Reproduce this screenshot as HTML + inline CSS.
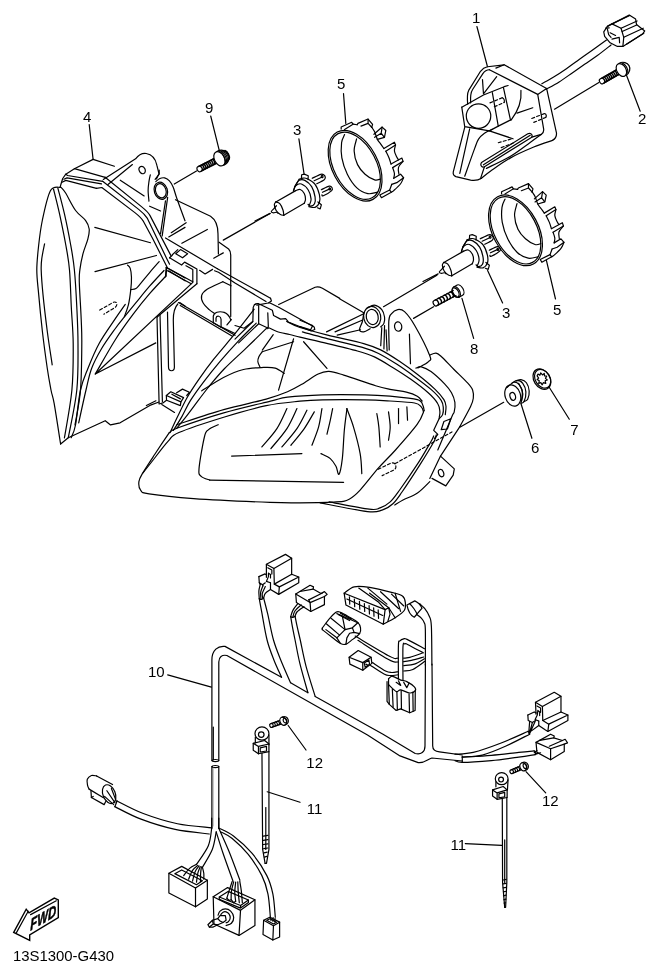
<!DOCTYPE html>
<html><head><meta charset="utf-8">
<style>
html,body{margin:0;padding:0;background:#fff;}
svg{display:block;filter:grayscale(1);}
svg *{vector-effect:non-scaling-stroke;}
.l{fill:none;stroke:#000;stroke-width:1.2;stroke-linecap:round;stroke-linejoin:round;}
.d{fill:none;stroke:#000;stroke-width:1.15;stroke-dasharray:3 2.2;}
text{font-family:"Liberation Sans",sans-serif;font-size:15px;fill:#000;}
</style></head><body>
<svg width="659" height="975" viewBox="0 0 659 975">
<rect width="659" height="975" fill="#fff"/>
<!-- LABELS -->
<g id="labels">
<text x="472" y="23.4">1</text>
<text x="638" y="124">2</text>
<text x="293" y="135">3</text>
<text x="502" y="317.5">3</text>
<text x="83" y="122">4</text>
<text x="337" y="89">5</text>
<text x="553" y="315">5</text>
<text x="531" y="453.2">6</text>
<text x="570.3" y="434.5">7</text>
<text x="470" y="353.5">8</text>
<text x="205" y="113">9</text>
<text x="148" y="677">10</text>
<text x="306.8" y="814.2">11</text>
<text x="450.5" y="850.2">11</text>
<text x="306.3" y="768">12</text>
<text x="542" y="806.4">12</text>
<text x="13" y="961" style="font-size:14.9px">13S1300-G430</text>
</g>
<!-- FWD arrow -->
<g id="fwd">
<path d="M13.7,932.4 L26.2,909.2 L29,912.9 L54.3,898.1 L58.3,899.9 L58.3,917.6 L29.7,934.9 L29.7,940.3 Z" fill="#fff" stroke="#000" stroke-width="1.4" stroke-linejoin="miter"/>
<path class="l" d="M16.3,932.9 L28.2,911.2 M30.6,914.6 L56.3,900.8"/>
<text transform="translate(30.3,930.8) skewY(-30) scale(0.69,1)" style="font-size:16.5px;font-weight:bold;font-style:italic;stroke:#000;stroke-width:0.5px">FWD</text>
</g>
<g class="l" id="leaders">
<path d="M476.9,26.5 L487.3,66"/>
<path d="M626.3,74.7 L640.2,111.2"/>
<path d="M298.9,138.9 L304,173.7"/>
<path d="M343.5,93.5 L345.8,123.4"/>
<path d="M210.7,116 L219.3,150.7"/>
<path d="M89.2,124.5 L93.1,159.4"/>
<path d="M487.6,270.6 L502.6,302.9"/>
<path d="M546.4,260.3 L555.5,299"/>
<path d="M521,403.7 L531.9,438.3"/>
<path d="M549.2,387.3 L569.3,419.2"/>
<path d="M460.3,426.9 L503.7,402.3"/>
<path d="M174.3,184 L196.5,171"/>
<path d="M167.7,674.9 L211.4,687.1"/>
<path d="M267.2,791.8 L300,802.3"/>
<path d="M288.2,725.5 L306,750"/>
<path d="M465.3,843.6 L501.7,845.4"/>
<path d="M526,771.7 L545.7,792.9"/>
</g>

<g class="l">
<path d="M60.2,187.2 C58.6,187.8 53.4,185.3 50.4,190.8 C47.4,196.3 44.3,211.0 42.4,220.0 C40.5,229.0 39.6,236.7 38.7,245.0 C37.8,253.3 36.8,261.7 36.8,270.0 C36.8,278.3 37.8,284.4 38.7,294.6 C39.6,304.9 41.0,319.2 42.4,331.5 C43.8,343.8 45.9,358.8 47.3,368.5 C48.7,378.2 49.9,384.1 51.0,390.0 C52.1,395.9 52.6,394.7 54.2,403.7 C55.8,412.7 59.5,437.3 60.6,444.0"/>
<path d="M44.6,243.8 C44.1,246.2 42.4,254.1 41.8,258.5 C41.2,262.9 41.0,264.0 41.2,270.0 C41.4,276.0 42.0,284.4 43.0,294.6 C44.0,304.9 45.8,319.8 47.3,331.5 C48.8,343.2 51.4,359.2 52.2,364.8"/>
<path d="M53.5,189.0 C54.5,193.2 57.6,204.9 59.6,214.2 C61.6,223.5 64.1,235.7 65.8,245.0 C67.5,254.3 68.6,259.7 69.5,270.0 C70.4,280.3 70.7,294.7 71.3,307.0 C71.9,319.3 73.1,330.0 73.2,343.8 C73.3,357.6 73.4,374.3 71.9,390.0 C70.4,405.7 65.7,430.0 64.4,438.0"/>
<path d="M57.8,187.8 C58.9,192.2 62.4,204.7 64.5,214.2 C66.7,223.7 69.0,235.7 70.7,245.0 C72.4,254.3 73.4,259.7 74.4,270.0 C75.4,280.3 76.2,294.7 76.8,307.0 C77.4,319.3 78.0,330.0 78.0,343.8 C78.0,357.6 78.4,374.4 76.8,390.0 C75.2,405.6 69.7,429.8 68.3,437.7"/>
<path d="M60.2,187.2 C60.4,187.3 60.6,186.8 61.5,187.8 C62.4,188.8 63.4,189.5 65.8,193.3 C68.1,197.1 72.3,206.0 75.6,210.5 C78.9,215.0 83.2,217.3 85.5,220.4 C87.8,223.5 88.8,225.9 89.2,229.0 C89.6,232.1 88.9,234.7 87.9,238.8 C86.9,242.9 84.3,248.5 83.0,253.6 C81.7,258.7 80.5,264.8 79.9,269.6 C79.3,274.4 79.1,274.0 79.3,282.3 C79.5,290.6 80.8,308.9 81.2,319.2 C81.6,329.4 81.9,332.0 81.8,343.8 C81.7,355.6 81.6,376.5 80.5,390.0 C79.4,403.5 75.9,419.2 75.0,425.0"/>
</g>
<g class="l">
<!-- top-left flange -->
<path d="M93.1,159.4 L74.4,168.7 L65.8,174.2 L62.7,178.5 L60.8,184.7 L60.2,187.2"/>
<path d="M93.1,159.4 L114.4,166.2"/>
<path d="M74.4,168.7 L105.2,177.3"/>
<path d="M65.8,174.2 L67.6,175.5 L102.7,181.3"/>
<path d="M63.9,179.2 L67,177.9 L101.5,183.8"/>
<path d="M62.1,182.2 L65.8,180.4 L96.5,188.4"/>
</g>

<g class="l" transform="translate(40,145) scale(0.21244)">
<!-- ear -->
<path d="M298,162 L450,65 C465,45 485,38 500,40 C530,45 545,70 550,95 L560,135 L548,160"/>
<path d="M320,186 L435,92"/>
<ellipse cx="481" cy="118" rx="14" ry="18" transform="rotate(-25 481 118)"/>
<!-- reflector -->
<path d="M258,388 L520,460"/>
</g>

<g class="l" transform="translate(50,255) scale(0.21244)">
<!-- bottom edge -->
<path d="M50,890 L86,860 L260,780 L285,800 L330,790 L470,708 L513,692"/>
</g>

<g class="l" transform="translate(150,170) scale(0.21244)">
<path d="M170,248 L100,295"/>
<path d="M270,280 L150,345"/>
<!-- back box -->
<path d="M120,140 L285,218 C310,235 320,270 320,300 L322,395"/>
<path d="M325,340 L370,372 C378,380 380,390 380,400 L380,690"/>
<path d="M300,415 L345,390"/>
<!-- leaders -->
<path d="M345,330 L565,205"/>
</g>
<g class="l" transform="translate(145,225) scale(0.13657)">
<!-- clip -->
<path d="M225,210 L260,180 L312,210 L275,240 Z"/>
<path d="M200,218 L240,180 M180,240 L200,222"/>
<path d="M180,240 L268,293 L290,272 L380,322 L380,430"/>
<path d="M300,298 L350,326 L350,415"/>
<!-- channel floor -->
<path d="M155,310 L350,415"/>
<path d="M165,335 L338,430"/>
<path d="M155,310 L150,380"/>
<!-- long diagonals to lower-left -->
<path d="M380,430 L89,674"/>
<!-- rail -->
<path d="M150,95 L530,320"/>
<path d="M400,332 L440,358 L495,325"/>
<!-- cavity -->
<path d="M570.0,415.0 C550.8,424.2 480.8,453.3 455.0,470.0 C429.2,486.7 420.0,498.3 415.0,515.0 C410.0,531.7 415.8,552.5 425.0,570.0 C434.2,587.5 455.5,606.7 470.0,620.0 C484.5,633.3 505.0,645.0 512.0,650.0"/>
<path d="M570,415 L630,445"/>
<!-- tab w hole -->
<path d="M500,715 L500,668 C505,640 540,628 580,640 C605,650 620,670 628,695"/>
<path d="M520,705 L520,682 C525,660 555,665 557,690 L557,748"/>
<path d="M500,715 L557,748"/>
<path d="M600,732 L632,692"/>
<!-- lower rail -->
<path d="M245,568 L659,808"/>
<path d="M258,590 L640,815"/>
<path d="M560,748 L659,795"/>
</g>
<g class="l">
<path d="M157,317 L159.1,403.5"/>
<path d="M160,314.5 L162.4,401.5"/>
<path d="M167.5,312 L168.5,367 C168.6,372 174.4,372 174.4,367 L173.3,320 C173.3,312 175,307 177.8,304"/>
</g>
<g class="l">
<path d="M217.4,268.7 L270.5,298.2"/>
<path d="M214.5,270.8 L218.5,272.3 L235,283 L266,301.5"/>
</g>

<g class="l" transform="translate(150,270) scale(0.21244)">
<!-- right headlight upper-left bezel -->
<path d="M490.0,185.0 C475.0,204.2 431.7,260.8 400.0,300.0 C368.3,339.2 328.3,384.2 300.0,420.0 C271.7,455.8 250.8,485.0 230.0,515.0 C209.2,545.0 191.7,570.8 175.0,600.0 C158.3,629.2 143.3,662.5 130.0,690.0 C116.7,717.5 100.8,752.5 95.0,765.0"/>
<path d="M500.0,250.0 C486.7,263.3 448.3,300.0 420.0,330.0 C391.7,360.0 358.3,396.7 330.0,430.0 C301.7,463.3 273.3,499.2 250.0,530.0 C226.7,560.8 206.7,588.3 190.0,615.0 C173.3,641.7 163.3,666.7 150.0,690.0 C136.7,713.3 116.7,744.2 110.0,755.0"/>
<path d="M548.0,275.0 C531.7,290.8 483.0,338.3 450.0,370.0 C417.0,401.7 378.3,435.8 350.0,465.0 C321.7,494.2 291.7,531.7 280.0,545.0"/>
<path d="M280.0,545.0 C271.7,555.8 248.3,585.8 230.0,610.0 C211.7,634.2 187.5,667.5 170.0,690.0 C152.5,712.5 132.5,735.8 125.0,745.0"/>
</g>

<g class="l" transform="translate(95,170) scale(0.13657)">
<!-- diagonals -->
<path d="M74,53 L340,268 C370,292 390,310 402,332 L555,625"/>
<path d="M56,82 L322,290 C350,312 368,330 382,352 L522,642 L546,690"/>
<path d="M10,135 L50,128 L292,312 C320,334 338,350 352,372 L422,502 L530,715"/>
<!-- apex outgoing -->
<!-- clip -->
<!-- ring -->
<ellipse cx="482" cy="152" rx="48" ry="64" transform="rotate(-18 482 152)"/>
<ellipse cx="482" cy="152" rx="38" ry="53" transform="rotate(-18 482 152)"/>
<path d="M532,200 L492,482"/>
<path d="M516,226 L480,466"/>
<!-- ear2 -->
<path d="M445.0,85.0 C450.0,81.2 464.2,66.5 475.0,62.0 C485.8,57.5 498.3,55.0 510.0,58.0 C521.7,61.0 534.7,68.8 545.0,80.0 C555.3,91.2 562.8,103.3 572.0,125.0 C581.2,146.7 585.5,168.8 600.0,210.0 C614.5,251.2 649.2,345.0 659.0,372.0"/>
<!-- ear1 right edge -->
<path d="M405.0,35.0 C403.3,43.3 397.7,65.8 395.0,85.0 C392.3,104.2 389.0,126.2 389.0,150.0 C389.0,173.8 394.0,215.0 395.0,228.0"/>
<path d="M470,0 L470,30 L440,68"/>
<path d="M400,265 L480,300"/>
<!-- lines -->
<path d="M185,75 L360,190"/>
<path d="M540,490 L659,420"/>
</g>

<g class="l">
<path d="M125.3,304.4 C123.6,306.9 119.4,312.6 115.0,319.2 C110.6,325.8 103.5,335.6 99.0,343.8 C94.5,352.0 91.0,360.8 87.9,368.5 C84.8,376.2 82.6,380.6 80.5,390.0 C78.4,399.4 77.0,417.1 75.5,425.0 C74.0,432.9 71.9,435.6 71.2,437.7"/>
<path d="M164.0,270.5 C161.6,273.1 154.3,280.8 149.6,286.2 C144.9,291.6 140.2,297.5 136.0,302.6 C131.8,307.7 127.9,312.5 124.4,316.9 C120.9,321.3 118.8,323.7 115.0,329.0 C111.2,334.3 105.4,342.2 101.5,348.8 C97.6,355.4 94.2,361.6 91.6,368.5 C89.0,375.4 88.2,380.9 86.0,390.0 C83.8,399.1 79.9,417.3 78.7,422.8"/>
<path d="M166.0,276.0 C163.3,278.9 155.1,287.3 149.6,293.7 C144.1,300.1 139.0,306.4 133.2,314.2 C127.4,321.9 121.3,330.2 115.0,340.2 C108.7,350.2 98.6,368.4 95.3,374.0"/>
<path d="M192.8,282.4 L95.3,374 L155.8,342.9"/>
</g>
<g class="l" transform="translate(95,250) scale(0.13657)">
<path d="M0,158 L450,40"/>
<path d="M238.0,110.0 C241.3,114.2 253.2,120.0 258.0,135.0 C262.8,150.0 266.3,174.2 267.0,200.0 C267.7,225.8 265.7,256.7 262.0,290.0 C258.3,323.3 252.8,367.0 245.0,400.0 C237.2,433.0 220.0,473.3 215.0,488.0"/>
<path d="M262.0,290.0 C268.3,288.7 288.7,288.7 300.0,282.0 C311.3,275.3 313.3,269.5 330.0,250.0 C346.7,230.5 376.7,192.5 400.0,165.0 C423.3,137.5 458.3,98.3 470.0,85.0"/>
<path d="M525,130 L520,190"/>
<path d="M525,130 L659,205"/>
<path d="M540,152 L659,226"/>
<!-- dashed pill -->
<path class="d" d="M35,440 L130,385 C150,375 162,385 160,400 C158,412 150,420 140,425 L65,470" style="stroke-dasharray:3 2.2"/>
<!-- bracket top edge to right -->
<path d="M620,385 L659,410"/>
</g>

<g class="l" transform="translate(140,370) scale(0.10622)">
<path d="M60,335 L150,290"/>
<path d="M180,320 L215,310 L250,285"/>
<path d="M248,240 L290,205 L410,260 L385,300 Z"/>
<path d="M248,240 L250,285 L380,335 L385,300"/>
<path d="M300,228 L380,272"/>
<path d="M345,215 L400,180 L465,210 L440,240"/>
<path d="M205,325 L325,400"/>
</g>

<g class="l">
<!-- T1 reflector top with hump -->
<path d="M177.0,424.6 C184.8,422.1 208.8,413.9 223.7,409.7 C238.6,405.4 255.6,402.1 266.2,399.1 C276.8,396.1 281.7,394.1 287.5,391.7 C293.3,389.3 296.1,387.6 301.2,384.6 C306.3,381.7 313.6,376.2 318.2,374.0 C322.8,371.8 324.6,371.2 328.9,371.4 C333.1,371.6 335.9,372.7 343.7,375.1 C351.5,377.5 367.9,383.3 375.6,385.7 C383.3,388.1 384.9,388.3 390.0,389.4 C395.1,390.5 401.8,391.0 406.4,392.1 C410.9,393.2 414.7,394.7 417.3,396.2 C419.9,397.7 421.3,400.2 422.1,401.0"/>
<!-- T2 -->
<path d="M169.3,432.7 C170.8,431.9 169.0,431.1 178.1,427.8 C187.2,424.5 208.3,417.3 223.7,412.9 C239.1,408.5 259.9,403.8 270.5,401.2 C281.1,398.6 278.8,398.3 287.5,397.2 C296.2,396.1 309.6,395.2 322.5,394.8 C335.4,394.4 353.8,394.6 365.0,394.8 C376.2,395.0 381.3,395.4 390.0,396.2 C398.7,397.0 411.8,398.1 417.3,399.6 C422.8,401.1 421.7,403.3 422.8,405.1 C423.9,406.9 423.9,409.6 424.1,410.5"/>
<!-- T3 + second outer-left -->
<path d="M143.2,472.7 C144.5,471.0 147.0,467.8 151.2,462.5 C155.4,457.2 163.6,446.2 168.2,441.2 C172.8,436.2 169.7,436.5 178.9,432.5 C188.2,428.5 209.1,421.7 223.7,417.2 C238.2,412.7 253.5,408.4 266.2,405.7 C278.9,403.0 290.6,402.2 300.0,401.2 C309.4,400.2 311.7,400.1 322.5,399.9 C333.3,399.7 353.8,399.7 365.0,399.9 C376.2,400.1 381.7,400.5 390.0,401.0 C398.3,401.5 409.4,402.0 414.6,403.0 C419.8,404.0 419.9,405.6 421.4,407.1 C422.9,408.6 423.1,411.1 423.5,411.9"/>
<!-- outer outline: apex -> corner -> bottom -->
<path d="M169.3,432.7 C166.9,436.2 159.4,447.3 155.0,454.0 C150.6,460.7 145.4,468.5 142.7,473.1 C140.0,477.7 139.2,478.8 138.9,481.6 C138.6,484.4 138.9,488.1 140.6,490.1 C142.3,492.2 140.2,492.5 149.1,493.9 C157.9,495.3 173.5,497.2 193.7,498.6 C213.8,500.0 252.3,501.7 270.0,502.4 C287.7,503.1 288.9,502.9 300.0,502.8 C311.1,502.7 328.2,502.5 336.4,501.9 C344.6,501.3 345.2,501.2 349.2,499.2 C353.1,497.2 355.2,495.3 360.1,490.1 C365.0,484.9 372.4,474.9 378.3,468.2 C384.2,461.5 389.0,457.3 395.5,450.0 C402.0,442.7 412.5,430.8 417.3,424.2 C422.1,417.6 423.0,412.8 424.1,410.5"/>
<!-- inner window -->
<path d="M218.2,424.7 C216.6,425.5 210.9,427.6 208.6,429.6 C206.3,431.7 206.0,430.4 204.4,437.0 C202.8,443.6 199.5,462.3 199.0,468.9 C198.5,475.4 199.4,474.4 201.2,476.3 C203.0,478.2 208.3,479.5 209.7,480.1"/>
<path d="M209.7,480.1 L270,481.2 L343.6,482.3"/>
<path d="M231.6,456.1 L301.9,453.6"/>
</g>

<g class="l" transform="translate(130,280) scale(0.33384)">
<!-- hatches -->
<path d="M395.0,500.0 C402.5,490.8 427.5,464.2 440.0,445.0 C452.5,425.8 465.0,395.0 470.0,385.0"/>
<path d="M422.0,505.0 C430.0,495.0 457.0,465.0 470.0,445.0 C483.0,425.0 495.0,395.0 500.0,385.0"/>
<path d="M455.0,500.0 C462.5,490.8 487.5,463.3 500.0,445.0 C512.5,426.7 525.0,399.2 530.0,390.0"/>
<path d="M482.0,495.0 C488.7,486.7 510.3,461.7 522.0,445.0 C533.7,428.3 547.0,403.3 552.0,395.0"/>
<path d="M545.0,495.0 C548.3,485.8 560.0,458.3 565.0,440.0 C570.0,421.7 573.3,394.2 575.0,385.0"/>
<path d="M590.0,462.0 C591.7,455.0 597.2,432.8 600.0,420.0 C602.8,407.2 605.8,390.8 607.0,385.0"/>
<path d="M572.0,520.0 C576.7,522.5 592.5,528.7 600.0,535.0 C607.5,541.3 612.7,550.2 617.0,558.0 C621.3,565.8 622.8,585.8 626.0,582.0 C629.2,578.2 633.3,557.0 636.0,535.0 C638.7,513.0 639.7,475.0 642.0,450.0 C644.3,425.0 648.7,395.8 650.0,385.0"/>
<!-- reflector -->
<path d="M215.0,332.0 C225.8,325.3 259.2,302.7 280.0,292.0 C300.8,281.3 320.0,273.0 340.0,268.0 C360.0,263.0 384.2,262.7 400.0,262.0 C415.8,261.3 424.7,261.0 435.0,264.0 C445.3,267.0 457.5,277.3 462.0,280.0"/>
<path d="M396.0,215.0 C394.3,217.5 388.2,225.0 386.0,230.0 C383.8,235.0 382.3,239.7 383.0,245.0 C383.7,250.3 388.8,259.2 390.0,262.0"/>
<path d="M396,215 L490,185"/>
<path d="M490,176 L445,330"/>
<path d="M520,185 L590,265"/>
</g>

<g class="l" transform="translate(270,280) scale(0.33384)">
<!-- leaders -->
<path d="M430,115 L490,80"/>
<path d="M340,80 L500,-14"/>
<path d="M575,55 L610,175"/>
<!-- dashed -->
<path class="d" d="M375,550 L545,455" style="stroke-dasharray:3 2.2"/>
<path class="d" style="stroke-dasharray:3 2.2" d="M324,567 L361,549 C370,545 378,550 377,561 C376,566 373,568 371,569 L336,586"/>
<!-- hatches -->
<path d="M230.0,385.0 C233.3,394.2 243.3,417.5 250.0,440.0 C256.7,462.5 265.8,496.7 270.0,520.0 C274.2,543.3 274.2,570.0 275.0,580.0"/>
<path d="M320.0,400.0 C321.0,406.7 324.3,423.3 326.0,440.0 C327.7,456.7 329.3,490.0 330.0,500.0"/>
<path d="M355.0,395.0 C355.8,402.5 360.0,425.8 360.0,440.0 C360.0,454.2 355.8,473.3 355.0,480.0"/>
<path d="M385,385 L385,430"/>
<path d="M410,380 L412,420"/>
</g>
<g class="l" transform="translate(300,300) scale(0.21244)">
<!-- clip plate end -->
<path d="M0,95 L60,120 L50,140 L0,125"/>
<!-- lines to ring -->
<path d="M125,150 L300,65"/>
<path d="M165,150 L292,95"/>
<path d="M175,165 L285,140"/>
<path d="M186,-6 L300,60"/>
<!-- ring tube -->
<ellipse cx="340" cy="80" rx="40" ry="50" transform="rotate(-12 340 80)"/>
<ellipse cx="340" cy="80" rx="28" ry="36" transform="rotate(-12 340 80)"/>
<path d="M300.0,60.0 C299.0,66.7 297.3,86.7 294.0,100.0 C290.7,113.3 279.0,131.7 280.0,140.0 C281.0,148.3 291.7,150.8 300.0,150.0 C308.3,149.2 325.0,137.5 330.0,135.0"/>
<path d="M318.0,38.0 C323.3,35.7 338.8,22.8 350.0,24.0 C361.2,25.2 377.0,35.7 385.0,45.0 C393.0,54.3 396.3,69.2 398.0,80.0 C399.7,90.8 398.0,102.3 395.0,110.0 C392.0,117.7 382.5,123.3 380.0,126.0"/>
<path d="M385,130 L380,215 M398,120 L395,230"/>
<!-- ear -->
<path d="M420.0,235.0 C419.7,212.5 416.3,128.3 418.0,100.0 C419.7,71.7 423.0,74.2 430.0,65.0 C437.0,55.8 449.7,46.7 460.0,45.0 C470.3,43.3 478.7,42.5 492.0,55.0 C505.3,67.5 520.3,85.8 540.0,120.0 C559.7,154.2 599.2,231.7 610.0,260.0 C620.8,288.3 614.2,280.0 605.0,290.0 C595.8,300.0 563.3,315.0 555.0,320.0"/>
<ellipse cx="462" cy="125" rx="17" ry="22" transform="rotate(-10 462 125)"/>
<path d="M515,160 L520,300"/>
<path d="M405,140 L410,240"/>
</g>

<g class="l" transform="translate(235,280) scale(0.18209)">
<!-- rail end -->
<path d="M195,100 L200,115 L185,125"/>
<!-- bracket top -->
<path d="M100,165 L100,150 C104,135 115,127 130,130 L205,166 L212,195 L250,215 L278,212 L290,226"/>
<path d="M120,138 L190,125 L240,150 L435,258 L438,272 L418,280 L285,228"/>
<path d="M100,160 L98,228 L0,325"/>
<path d="M130,140 L130,240 L20,345"/>
<path d="M180,180 L183,255 L176,268"/>
<path d="M130,240 L183,265"/>
<path d="M98,228 L50,265 L0,250"/>
<!-- box on top -->
<path d="M240,135 L440,40 C455,35 465,38 480,45 L575,101"/>
<!-- reflector fan -->
<path d="M210,300 L150,385"/>
</g>

<g class="l">
<!-- bezel a b c -->
<path d="M286.9,321.5 C289.1,322.5 293.2,325.2 300.0,327.5 C306.8,329.8 317.0,332.4 327.6,335.1 C338.2,337.8 354.9,341.1 363.7,343.6 C372.5,346.1 374.7,346.9 380.7,349.9 C386.7,352.9 393.7,357.5 399.8,361.6 C405.9,365.7 411.4,369.7 417.3,374.3 C423.2,378.9 430.7,385.2 435.1,389.4 C439.5,393.6 442.1,396.8 443.9,399.6 C445.7,402.4 445.8,403.9 446.0,406.4 C446.2,408.9 445.4,413.2 445.3,414.6"/>
<path d="M302.4,331.9 C306.2,332.9 315.6,335.6 325.5,338.2 C335.4,340.8 352.8,344.6 361.6,347.2 C370.5,349.8 372.6,350.6 378.6,353.5 C384.6,356.4 391.9,361.1 397.7,364.8 C403.5,368.5 407.6,371.6 413.2,375.7 C418.8,379.8 426.3,385.3 431.0,389.4 C435.7,393.5 439.1,397.2 441.2,400.3 C443.2,403.4 443.1,405.4 443.3,407.8 C443.5,410.2 443.3,412.8 442.6,414.6 C441.9,416.4 439.8,417.9 439.2,418.5"/>
<path d="M439.2,418.5 L433.7,430.3 L437.8,434.4 L434.5,438.5"/>
<path d="M268.7,327.7 C270.1,328.3 273.4,330.4 276.9,331.5 C280.4,332.6 285.8,333.6 289.6,334.5 C293.5,335.4 294.7,335.9 300.0,337.2 C305.3,338.5 311.6,339.8 321.2,342.1 C330.8,344.4 348.5,348.5 357.4,351.0 C366.3,353.5 368.4,354.1 374.4,356.9 C380.4,359.7 387.5,364.3 393.5,368.0 C399.5,371.7 404.7,375.0 410.5,379.1 C416.3,383.2 423.6,388.7 428.2,392.8 C432.8,396.9 435.9,400.5 437.8,403.7 C439.8,406.9 439.7,409.6 439.9,411.9 C440.1,414.2 439.3,416.5 439.2,417.4"/>
<!-- housing rear -->
<path d="M415.9,368.2 C416.8,368.0 418.9,366.2 421.4,366.8 C423.9,367.4 427.1,368.8 431.0,371.6 C434.9,374.5 441.2,380.4 444.6,383.9 C448.0,387.4 449.8,389.7 451.5,392.8 C453.2,395.9 454.4,399.1 454.9,402.3 C455.3,405.5 454.8,409.4 454.2,411.9 C453.6,414.4 454.2,411.0 451.5,417.4 C448.8,423.8 440.1,444.6 437.8,450.0"/>
<!-- outer housing -->
<path d="M429.6,355.2 C430.7,354.9 434.0,352.8 436.0,353.1 C438.0,353.4 438.5,354.1 441.5,356.8 C444.5,359.5 449.6,365.1 454.0,369.5 C458.4,373.9 464.7,379.8 467.8,383.2 C470.9,386.6 471.7,387.5 472.6,390.0 C473.5,392.5 473.6,395.5 473.3,398.2 C473.0,400.9 472.9,401.6 470.6,406.4 C468.3,411.2 461.5,423.5 459.7,426.9"/>
<path d="M459.7,426.9 L440.5,456.1"/>
<!-- clip -->
<path d="M443.9,421.5 L450.8,418.7 L447.4,429 L441.2,429.7 Z"/>
<!-- lower right double line + bottom housing -->
<path d="M320.0,502.8 C327.9,504.3 357.1,510.4 367.4,511.6 C377.7,512.8 377.8,511.4 382.0,510.1 C386.2,508.8 389.6,506.7 392.9,503.7 C396.2,500.7 397.5,498.5 402.0,492.0 C406.5,485.5 414.6,473.1 420.0,464.6 C425.4,456.1 431.4,446.1 434.1,441.2 C436.8,436.2 435.9,435.9 436.2,434.9"/>
<path d="M329.1,501.9 C335.8,503.1 360.7,508.2 369.2,509.2 C377.7,510.2 376.6,509.1 380.1,507.9 C383.6,506.7 386.9,505.0 390.2,501.9 C393.5,498.8 395.3,496.0 400.0,489.5 C404.7,483.0 413.2,470.7 418.4,462.7 C423.6,454.7 428.4,445.9 431.0,441.5 C433.6,437.1 433.2,436.9 433.7,436.0"/>
<path d="M394.8,505.0 C396.2,504.2 399.2,502.0 403.0,500.0 C406.8,498.0 413.0,496.1 417.5,493.0 C422.0,489.9 427.8,483.5 429.8,481.6"/>
<!-- mounting tab -->
<path d="M429.8,478.4 L440.5,456.1 L454.3,468.9 L453.2,475.2 L445.8,485.9 L432,478.4"/>
<ellipse cx="441.1" cy="473.1" rx="2.5" ry="3.8" transform="rotate(-20 441.1 473.1)"/>
</g>

<g class="l" transform="translate(219.4,158.8) rotate(-27.1)">
<path d="M-1,-2.7 L-23.0,-2.7 A1.8,2.7 0 0 0 -23.0,2.7 L-1,2.7"/>
<path d="M-21.5,-2.7 A1.8,2.7 0 0 1 -21.5,2.7 M-19.5,-2.7 A1.8,2.7 0 0 1 -19.5,2.7 M-17.5,-2.7 A1.8,2.7 0 0 1 -17.5,2.7 M-15.5,-2.7 A1.8,2.7 0 0 1 -15.5,2.7 M-13.5,-2.7 A1.8,2.7 0 0 1 -13.5,2.7 M-11.5,-2.7 A1.8,2.7 0 0 1 -11.5,2.7 M-9.5,-2.7 A1.8,2.7 0 0 1 -9.5,2.7 M-7.5,-2.7 A1.8,2.7 0 0 1 -7.5,2.7 M-5.5,-2.7 A1.8,2.7 0 0 1 -5.5,2.7 M-3.5,-2.7 A1.8,2.7 0 0 1 -3.5,2.7 " style="stroke-width:1.45"/>
<ellipse cx="0" cy="0" rx="5" ry="7.6" fill="#fff"/>
<path d="M1,-7.6 C7,-8 10,-3.5 10,0 C10,3.5 7,8 1,7.6"/>
<path d="M3.5,-7.0 C5.7,-3 5.7,3 3.5,7.0" stroke-width="1.1"/>
<path d="M4.8,-6.5 C7.0,-3 7.0,3 4.8,6.5" stroke-width="1.1"/>
<path d="M6.1,-6.0 C8.3,-3 8.3,3 6.1,6.0" stroke-width="1.1"/>
<path d="M7.4,-5.5 C9.6,-3 9.6,3 7.4,5.5" stroke-width="1.1"/>
<path d="M8.7,-5.0 C10.9,-3 10.9,3 8.7,5.0" stroke-width="1.1"/>
</g>
<g class="l" transform="translate(621.4,70.0) rotate(-29.7)">
<path d="M-1,-2.7 L-23.0,-2.7 A1.8,2.7 0 0 0 -23.0,2.7 L-1,2.7"/>
<path d="M-21.5,-2.7 A1.8,2.7 0 0 1 -21.5,2.7 M-19.5,-2.7 A1.8,2.7 0 0 1 -19.5,2.7 M-17.5,-2.7 A1.8,2.7 0 0 1 -17.5,2.7 M-15.5,-2.7 A1.8,2.7 0 0 1 -15.5,2.7 M-13.5,-2.7 A1.8,2.7 0 0 1 -13.5,2.7 M-11.5,-2.7 A1.8,2.7 0 0 1 -11.5,2.7 M-9.5,-2.7 A1.8,2.7 0 0 1 -9.5,2.7 M-7.5,-2.7 A1.8,2.7 0 0 1 -7.5,2.7 M-5.5,-2.7 A1.8,2.7 0 0 1 -5.5,2.7 M-3.5,-2.7 A1.8,2.7 0 0 1 -3.5,2.7 " style="stroke-width:1.45"/>
<ellipse cx="0" cy="0" rx="4.6" ry="6.9" fill="#fff"/>
<path d="M1,-6.9 C6,-7.2 8.8,-3 8.8,0 C8.8,3 6,7.2 1,6.9"/>
<path d="M4.2,-5.5 C6.5,-3 6.5,3 4.2,5.5"/>
</g>
<g class="l" transform="translate(455.5,292.5) rotate(-28.0)">
<path d="M-1,-2.9 L-23.0,-2.9 A1.8,2.9 0 0 0 -23.0,2.9 L-1,2.9"/>
<path d="M-21.5,-2.9 A1.8,2.9 0 0 1 -21.5,2.9 M-18.2,-2.9 A1.8,2.9 0 0 1 -18.2,2.9 M-14.8,-2.9 A1.8,2.9 0 0 1 -14.8,2.9 M-11.5,-2.9 A1.8,2.9 0 0 1 -11.5,2.9 M-8.2,-2.9 A1.8,2.9 0 0 1 -8.2,2.9 M-4.8,-2.9 A1.8,2.9 0 0 1 -4.8,2.9 " style="stroke-width:1.45"/>
<ellipse cx="0" cy="0" rx="3" ry="5"/>
<ellipse cx="1" cy="0" rx="3.4" ry="5.8"/>
<path d="M1,-5.8 L5,-5.8 A3.4,5.8 0 0 1 5,5.8 L1,5.8"/>
</g>

<g class="l" transform="translate(445,50) scale(0.19727)">
<!-- outer frame -->
<path d="M215,85 C200,88 190,95 180,108 L120,205 C112,220 112,240 115,275"/>
<path d="M215,85 L300,75 L515,195 L565,420 C567,440 560,450 545,458"/>
<path d="M545.0,458.0 C529.2,463.7 485.8,477.0 450.0,492.0 C414.2,507.0 366.7,527.5 330.0,548.0 C293.3,568.5 254.2,598.0 230.0,615.0 C205.8,632.0 192.5,644.2 185.0,650.0"/>
<path d="M185,650 C170,660 150,663 130,660 L55,642 C43,637 40,628 42,618 L100,392"/>
<!-- inner frame -->
<path d="M225,100 C210,100 200,108 192,120 L140,200 C130,215 128,235 130,268"/>
<path d="M225,100 L470,225 L500,400 C502,415 498,422 488,428 L440,442"/>
<path d="M470,225 L515,195"/>
<path d="M300,75 L258,92"/>
<!-- inner structure -->
<path d="M190,150 L195,222 L262,135"/>
<path d="M385,205 C390,260 370,310 335,355"/>
<path d="M365,320 L445,293"/>
<!-- box -->
<path d="M85,290 L195,228 L300,186 L320,180"/>
<path d="M85,290 L100,388 L225,410 L270,386 L332,355"/>
<path d="M240,216 L270,386"/>
<path d="M296,190 L332,355"/>
<circle cx="170" cy="335" r="62"/>
<!-- dashed -->
<path class="d" d="M228,268 L290,242 M250,288 L300,266 M440,347 L505,322 M450,367 L510,342 M270,470 L340,450 M285,495 L345,472" style="stroke-dasharray:3 2.2"/>
<path d="M290,242 C300,245 302,258 300,266 M505,322 C515,325 515,338 510,342"/>
<!-- lower body -->
<path d="M240.0,402.0 C233.3,405.3 211.7,413.7 200.0,422.0 C188.3,430.3 178.3,439.0 170.0,452.0 C161.7,465.0 161.7,468.7 150.0,500.0 C138.3,531.3 108.3,616.7 100.0,640.0"/>
<path d="M125,400 L75,625"/>
<path d="M225,410 L345,450"/>
<!-- bottom tube -->
<path d="M185,570 L420,425 C432,418 446,427 440,442 L200,592 C188,598 176,585 185,570 Z"/>
<path d="M195,582 L432,432"/>
<path d="M200,592 L180,652"/>
<path d="M210.0,600.0 C230.0,590.0 293.3,561.7 330.0,540.0 C366.7,518.3 403.7,488.7 430.0,470.0 C456.3,451.3 478.3,435.0 488.0,428.0"/>
<!-- leader to screw -->
<path d="M555,300 L780,165"/>
</g>
<g class="l" transform="translate(530,10) scale(0.18209)">
<!-- wire -->
<path d="M65.0,405.0 C75.8,398.8 107.5,381.8 130.0,368.0 C152.5,354.2 176.7,338.0 200.0,322.0 C223.3,306.0 246.7,288.7 270.0,272.0 C293.3,255.3 315.0,239.8 340.0,222.0 C365.0,204.2 406.7,174.5 420.0,165.0"/>
<path d="M88.0,436.0 C100.0,429.2 136.3,409.8 160.0,395.0 C183.7,380.2 206.7,363.2 230.0,347.0 C253.3,330.8 276.7,314.2 300.0,298.0 C323.3,281.8 345.8,267.7 370.0,250.0 C394.2,232.3 432.5,201.7 445.0,192.0"/>
<!-- connector -->
<path d="M405,120 L425,90 L545,28 L580,50 L585,80 L630,115 L620,130 L510,200 L480,200 L440,180 L410,145 Z"/>
<path d="M425,90 L450,76 L500,100 L515,150 L510,200"/>
<path d="M450,76 L548,30"/>
<path d="M500,100 L588,60"/>
<path d="M506,118 L586,82"/>
<path d="M515,150 L622,100"/>
<path d="M530,188 L625,128"/>
<path d="M425,105 L432,135 L445,150 M440,125 L470,140 M450,160 L490,150 L492,180 M415,100 L435,98"/>
</g>

<defs>
<g id="cover">
<g transform="translate(257,408) rotate(62)">
<ellipse cx="0" cy="0" rx="279" ry="167"/>
<ellipse cx="0" cy="0" rx="266" ry="155"/>
</g>
<path d="M180.0,180.0 C176.3,190.0 161.3,211.7 158.0,240.0 C154.7,268.3 153.0,311.7 160.0,350.0 C167.0,388.3 181.7,433.3 200.0,470.0 C218.3,506.7 245.0,546.3 270.0,570.0 C295.0,593.7 325.0,606.7 350.0,612.0 C375.0,617.3 408.3,603.7 420.0,602.0"/>
<path d="M268.0,212.0 C265.0,226.7 248.8,268.7 250.0,300.0 C251.2,331.3 261.7,371.7 275.0,400.0 C288.3,428.3 309.2,451.3 330.0,470.0 C350.8,488.7 381.3,506.0 400.0,512.0 C418.7,518.0 435.0,507.0 442.0,506.0"/>
<!-- tabs -->
<path d="M155,140 L155,125 L232,90 L242,104 L180,142"/>
<path d="M272,108 L278,98 L352,66 L385,105 L378,128"/>
<path d="M352,66 L352,98 L300,118 M352,98 L380,128"/>
<path d="M395,178 L455,125 L482,150 L472,200 L420,215"/>
<path d="M455,125 L448,170 L400,200 M448,170 L470,198"/>
<path d="M468,282 L545,236 L553,256 L482,302"/>
<path d="M520,396 L600,352 L608,376 L532,422"/>
<path d="M540,500 L590,470 L612,496 L562,532 L525,545"/>
<path d="M438,622 L510,586 L522,602 L450,642 Z"/>
<!-- back rim segments -->
<path d="M242,104 L272,108"/>
<path d="M380.0,128.0 C383.3,133.3 393.3,145.5 400.0,160.0 C406.7,174.5 412.5,200.0 420.0,215.0 C427.5,230.0 437.0,238.8 445.0,250.0 C453.0,261.2 464.2,276.7 468.0,282.0"/>
<path d="M482.0,302.0 C485.8,310.0 498.7,334.3 505.0,350.0 C511.3,365.7 517.5,388.3 520.0,396.0"/>
<path d="M553.0,256.0 C551.7,263.3 543.5,285.2 545.0,300.0 C546.5,314.8 557.0,334.2 562.0,345.0 C567.0,355.8 572.8,361.7 575.0,365.0"/>
<path d="M532.0,422.0 C534.2,429.2 543.7,452.0 545.0,465.0 C546.3,478.0 540.8,494.2 540.0,500.0"/>
<path d="M608.0,376.0 C602.5,383.3 580.0,404.3 575.0,420.0 C570.0,435.7 577.5,461.7 578.0,470.0"/>
<path d="M612.0,496.0 C608.3,503.3 602.0,524.3 590.0,540.0 C578.0,555.7 551.3,579.7 540.0,590.0 C528.7,600.3 525.0,600.0 522.0,602.0"/>
<path d="M525,545 L510,586"/>
</g>
</defs>
<g class="l" transform="translate(320,110) scale(0.13657)"><use href="#cover"/></g>
<g class="l" transform="translate(480.4,174.6) scale(0.13657)"><use href="#cover"/></g>

<defs>
<g id="bulb">
<!-- glass -->
<path d="M95,325 L270,225"/>
<path d="M165,442 L345,337"/>
<path d="M95.0,325.0 C92.8,329.2 81.5,337.5 82.0,350.0 C82.5,362.5 89.2,385.8 98.0,400.0 C106.8,414.2 123.8,428.0 135.0,435.0 C146.2,442.0 160.0,440.8 165.0,442.0"/>
<path d="M100.0,358.0 C96.3,362.2 85.5,374.3 78.0,383.0 C70.5,391.7 55.5,403.7 55.0,410.0 C54.5,416.3 67.5,420.2 75.0,421.0 C82.5,421.8 93.2,414.2 100.0,415.0 C106.8,415.8 113.3,424.2 116.0,426.0"/>
<path d="M95.0,325.0 C100.8,327.5 119.5,328.3 130.0,340.0 C140.5,351.7 152.2,378.0 158.0,395.0 C163.8,412.0 163.8,434.2 165.0,442.0"/>
<!-- rings -->
<path d="M300.0,125.0 C305.8,123.3 323.3,115.8 335.0,115.0 C346.7,114.2 352.5,110.8 370.0,120.0 C387.5,129.2 422.0,146.7 440.0,170.0 C458.0,193.3 471.7,233.3 478.0,260.0 C484.3,286.7 484.3,311.3 478.0,330.0 C471.7,348.7 455.5,366.2 440.0,372.0 C424.5,377.8 394.2,366.2 385.0,365.0"/>
<path d="M262.0,190.0 C268.3,180.8 285.3,144.2 300.0,135.0 C314.7,125.8 331.7,125.8 350.0,135.0 C368.3,144.2 395.0,165.8 410.0,190.0 C425.0,214.2 435.8,255.0 440.0,280.0 C444.2,305.0 441.7,326.3 435.0,340.0 C428.3,353.7 409.5,361.2 400.0,362.0 C390.5,362.8 381.7,347.8 378.0,345.0"/>
<path d="M250.0,228.0 C253.3,220.3 258.3,192.2 270.0,182.0 C281.7,171.8 301.7,160.7 320.0,167.0 C338.3,173.3 365.8,197.8 380.0,220.0 C394.2,242.2 403.3,278.0 405.0,300.0 C406.7,322.0 392.5,343.3 390.0,352.0"/>
<path d="M270.0,225.0 C276.7,223.3 297.5,210.8 310.0,215.0 C322.5,219.2 337.3,235.8 345.0,250.0 C352.7,264.2 356.0,285.5 356.0,300.0 C356.0,314.5 346.8,330.8 345.0,337.0"/>
<path d="M262,190 L250,228 M300,125 L262,190"/>
<!-- top tab -->
<path d="M320,118 L322,86 L345,80 L380,95 L378,128"/>
<!-- prongs -->
<path d="M415.0,117.0 C427.5,111.2 472.8,86.8 490.0,82.0 C507.2,77.2 511.3,83.3 518.0,88.0 C524.7,92.7 530.0,102.7 530.0,110.0 C530.0,117.3 530.5,122.8 518.0,132.0 C505.5,141.2 465.5,159.5 455.0,165.0"/>
<path d="M432,138 L498,108"/>
<ellipse cx="502" cy="102" rx="7" ry="10" transform="rotate(-25 502 102)"/>
<path d="M495.0,217.0 C506.7,211.8 549.5,189.2 565.0,186.0 C580.5,182.8 584.5,191.5 588.0,198.0 C591.5,204.5 598.7,213.0 586.0,225.0 C573.3,237.0 526.3,263.8 512.0,270.0 C497.7,276.2 502.0,263.3 500.0,262.0"/>
<ellipse cx="570" cy="210" rx="6" ry="10" transform="rotate(-25 570 210)"/>
<path d="M505,240 L565,212"/>
<!-- bottom tab -->
<path d="M465,325 L495,350 L485,386 L460,376"/>
<!-- leader to tip -->
<path d="M-88,492 L45,425"/>
</g>
</defs>
<g class="l" transform="translate(265,165) scale(0.11381)"><use href="#bulb"/></g>
<g class="l" transform="translate(433,225.5) scale(0.11381)"><use href="#bulb"/></g>

<g class="l" transform="translate(480,360) scale(0.18209)">
<!-- grommet 6 -->
<ellipse cx="180" cy="195" rx="42" ry="60" transform="rotate(-18 180 195)"/>
<ellipse cx="180" cy="200" rx="15" ry="22" transform="rotate(-18 180 200)"/>
<path d="M150.0,150.0 C155.8,145.3 174.2,124.5 185.0,122.0 C195.8,119.5 206.7,124.5 215.0,135.0 C223.3,145.5 233.3,168.3 235.0,185.0 C236.7,201.7 226.7,226.7 225.0,235.0"/>
<path d="M175.0,128.0 C180.0,125.3 195.0,112.0 205.0,112.0 C215.0,112.0 227.2,117.5 235.0,128.0 C242.8,138.5 250.8,158.3 252.0,175.0 C253.2,191.7 246.5,217.5 242.0,228.0 C237.5,238.5 227.8,236.3 225.0,238.0"/>
<path d="M200.0,115.0 C204.2,113.8 215.8,106.3 225.0,108.0 C234.2,109.7 247.5,114.7 255.0,125.0 C262.5,135.3 268.8,155.0 270.0,170.0 C271.2,185.0 266.7,205.3 262.0,215.0 C257.3,224.7 245.3,225.8 242.0,228.0"/>
<path d="M212.0,128.0 C215.3,135.0 229.3,153.8 232.0,170.0 C234.7,186.2 228.7,215.8 228.0,225.0"/>
<!-- washer 7 -->
<ellipse cx="340" cy="105" rx="44" ry="60" transform="rotate(-32 340 105)"/>
<ellipse cx="344" cy="103" rx="40" ry="55" transform="rotate(-32 344 103)"/>
<path d="M318,72 L330,80 L335,65 L347,78 L358,68 L360,85 L374,85 L366,100 L378,110 L364,116 L368,132 L352,128 L345,142 L336,128 L322,132 L326,116 L312,108 L322,98 L312,84 Z" transform="translate(340,105) scale(0.85) translate(-343,-105)"/>
</g>

<g class="l" transform="translate(250,550) scale(0.13657)">
<!-- connector A -->
<path d="M120,105 L260,32 L305,60 L175,135 Z"/>
<path d="M120,105 L120,200 M175,135 L178,250 M305,60 L305,180"/>
<path d="M178,250 L305,178 L357,198 L215,270 Z"/>
<path d="M215,270 L210,325 L357,240 L357,198"/>
<path d="M150,240 L150,290 L210,325"/>
<path d="M65,195 L110,175 L120,182"/>
<path d="M65,195 L68,240 L92,255 L112,240"/>
<path d="M68,240 L75,252 M92,255 L95,262"/>
<path d="M130,130 L160,146 L160,176 M135,170 L150,180 L150,205 M135,170 L135,195 L120,230 L150,240"/>
<path d="M75.0,252.0 C73.3,260.0 66.2,282.5 65.0,300.0 C63.8,317.5 67.5,347.5 68.0,357.0"/>
<path d="M95.0,262.0 C92.2,270.0 80.5,294.5 78.0,310.0 C75.5,325.5 79.7,347.5 80.0,355.0"/>
<path d="M112.0,268.0 C108.3,276.3 93.2,304.0 90.0,318.0 C86.8,332.0 92.5,346.3 93.0,352.0"/>
<path d="M150.0,290.0 C143.7,294.7 120.3,307.7 112.0,318.0 C103.7,328.3 102.0,346.3 100.0,352.0"/>
<path d="M68,357 C75,365 95,362 100,352"/>
<path d="M68.0,357.0 C70.8,372.5 75.5,399.7 85.0,450.0 C94.5,500.3 110.0,599.8 125.0,659.0 C140.0,718.2 157.3,759.5 175.0,805.0 C192.7,850.5 221.7,910.8 231.0,932.0"/>
<path d="M100.0,352.0 C105.0,371.7 118.0,418.8 130.0,470.0 C142.0,521.2 156.2,603.2 172.0,659.0 C187.8,714.8 204.2,752.8 225.0,805.0 C245.8,857.2 285.0,944.2 297.0,972.0"/>
<!-- connector B -->
<path d="M335,322 L440,258 L465,270 L462,286 L520,318 L545,305 L565,325 L545,340 L545,400 L445,450 L340,385 Z"/>
<path d="M335,322 L440,385 L545,340"/>
<path d="M440,385 L445,450"/>
<path d="M365,304 L462,286"/>
<path d="M430,365 L530,315"/>
<path d="M440,385 L430,365"/>
<path d="M350.0,393.0 C344.2,400.8 323.7,424.2 315.0,440.0 C306.3,455.8 300.8,480.0 298.0,488.0"/>
<path d="M375.0,402.0 C367.5,409.2 340.2,430.3 330.0,445.0 C319.8,459.7 316.7,482.5 314.0,490.0"/>
<path d="M395.0,415.0 C386.7,421.2 355.8,440.3 345.0,452.0 C334.2,463.7 332.5,479.5 330.0,485.0"/>
<path d="M298,488 C305,496 322,494 330,485"/>
<path d="M298.0,488.0 C300.0,500.0 304.7,531.5 310.0,560.0 C315.3,588.5 320.8,614.0 330.0,659.0 C339.2,704.0 349.3,765.7 365.0,830.0 C380.7,894.3 414.2,1009.2 424.0,1045.0"/>
<path d="M330.0,485.0 C332.5,497.5 338.7,531.0 345.0,560.0 C351.3,589.0 357.2,610.7 368.0,659.0 C378.8,707.3 391.8,781.2 410.0,850.0 C428.2,918.8 465.8,1035.0 477.0,1072.0"/>
</g>

<g class="l" transform="translate(315,575) scale(0.18209)">
<!-- connector C -->
<path d="M160.0,100.0 C169.2,94.2 191.7,70.3 215.0,65.0 C238.3,59.7 265.8,63.0 300.0,68.0 C334.2,73.0 390.0,87.2 420.0,95.0 C450.0,102.8 467.3,105.8 480.0,115.0 C492.7,124.2 494.3,136.7 496.0,150.0 C497.7,163.3 499.3,180.8 490.0,195.0 C480.7,209.2 459.2,222.5 440.0,235.0 C420.8,247.5 385.8,264.2 375.0,270.0"/>
<path d="M375,270 L170,165 L160,100 L385,190 L375,270"/>
<path d="M385,190 L405,180 L412,215 L400,255"/>
<path d="M175,132 L372,222"/>
<path d="M189,120 L191,160 M216,132 L218,174 M244,145 L246,188 M271,157 L273,200 M297,168 L299,214 M322,180 L324,226 M347,192 L349,238"/>
<path d="M240,72 L350,150 M290,72 L395,160 M360,92 L460,185 M420,105 L488,170 M350,150 L385,190 M300,100 L405,180"/>
<path d="M440,100 L455,150 L470,200 M405,180 L440,235"/>
<!-- sleeve -->
<path d="M505,165 L548,142 C565,150 580,165 588,182 L545,232 C530,225 512,200 505,165 Z"/>
<path d="M520,158 C535,170 555,200 560,215"/>
<!-- tube right top curves -->
<path d="M575.0,158.0 C579.7,162.5 594.3,173.8 603.0,185.0 C611.7,196.2 621.0,209.2 627.0,225.0 C633.0,240.8 636.5,235.2 639.0,280.0 C641.5,324.8 641.5,458.3 642.0,494.0"/>
<path d="M560.0,218.0 C564.2,221.3 578.3,230.7 585.0,238.0 C591.7,245.3 596.5,251.7 600.0,262.0 C603.5,272.3 605.0,261.3 606.0,300.0 C607.0,338.7 606.0,461.7 606.0,494.0"/>
<!-- connector D -->
<path d="M40.0,292.0 C45.8,284.2 62.5,259.5 75.0,245.0 C87.5,230.5 104.2,211.7 115.0,205.0 C125.8,198.3 127.5,200.5 140.0,205.0 C152.5,209.5 174.2,222.8 190.0,232.0 C205.8,241.2 225.0,250.3 235.0,260.0 C245.0,269.7 248.3,279.7 250.0,290.0 C251.7,300.3 252.5,311.2 245.0,322.0 C237.5,332.8 217.5,345.3 205.0,355.0 C192.5,364.7 180.8,376.5 170.0,380.0 C159.2,383.5 154.2,383.5 140.0,376.0 C125.8,368.5 101.7,347.7 85.0,335.0 C68.3,322.3 47.5,305.8 40.0,300.0" />
<path d="M40,292 L40,300"/>
<path d="M62,268 L135,330 M60,300 L120,345 L140,376"/>
<path d="M88,238 L165,300 L135,330 L120,345"/>
<path d="M120,212 L150,225 L235,262"/>
<path d="M150,225 L165,300 M165,300 L205,290 L235,262"/>
<path d="M175,345 L190,320 L215,315 M175,345 L170,380 M205,290 L215,315 L245,322"/>
<path d="M130,218 L190,250 M140,210 L200,242" stroke-width="1.3"/>
<!-- wire from D -->
</g>
<g class="l" transform="translate(340,630) scale(0.15175)">
<!-- connector E -->
<path d="M60,180 L120,135 L205,180 L150,215 Z"/>
<path d="M150,215 L150,265 L210,220 L205,180"/>
<path d="M60,180 L65,225 L150,265"/>
<path d="M160,218 L190,197 L195,226 L166,246 Z"/>
<path d="M170,225 L185,232"/>
<!-- wire from E -->
<path d="M200.0,232.0 C215.0,241.7 268.3,278.7 290.0,290.0 C311.7,301.3 314.2,299.2 330.0,300.0 C345.8,300.8 375.8,295.8 385.0,295.0"/>
<path d="M215.0,215.0 C229.2,224.2 279.2,259.2 300.0,270.0 C320.8,280.8 325.8,279.2 340.0,280.0 C354.2,280.8 377.5,275.8 385.0,275.0"/>
<!-- wires from D continue -->
<path d="M100.0,40.0 C138.3,62.5 283.3,150.7 330.0,175.0 C376.7,199.3 358.3,185.2 380.0,186.0 C401.7,186.8 432.0,186.0 460.0,180.0 C488.0,174.0 533.3,155.0 548.0,150.0"/>
<path d="M118.0,68.0 C151.7,89.2 276.3,171.2 320.0,195.0 C363.7,218.8 355.0,210.2 380.0,211.0 C405.0,211.8 441.3,205.5 470.0,200.0 C498.7,194.5 538.3,181.7 552.0,178.0"/>
<!-- loop -->
<path d="M386,322 L386,100 C386,78 400,60 420,59 L442,63 L560,126 L548,150 L445,96 C430,91 416,96 416,110 L416,328 Z" style="fill:#fff;stroke:none"/>
<path d="M385.0,322.0 C385.0,285.0 383.3,141.7 385.0,100.0 C386.7,58.3 389.2,79.0 395.0,72.0 C400.8,65.0 412.2,59.7 420.0,58.0 C427.8,56.3 418.7,50.8 442.0,62.0 C465.3,73.2 540.3,114.5 560.0,125.0"/>
<path d="M415.0,328.0 C415.0,291.7 412.8,149.3 415.0,110.0 C417.2,70.7 423.0,94.5 428.0,92.0 C433.0,89.5 425.0,85.3 445.0,95.0 C465.0,104.7 530.8,140.8 548.0,150.0"/>
<path d="M420.0,235.0 C431.7,233.3 467.3,232.5 490.0,225.0 C512.7,217.5 545.0,195.8 556.0,190.0"/>
<path d="M420.0,270.0 C430.0,268.3 456.7,270.7 480.0,260.0 C503.3,249.3 546.7,215.0 560.0,206.0"/>
<!-- connector F -->
<path d="M320.0,322.0 C324.2,319.2 331.7,303.7 345.0,305.0 C358.3,306.3 384.2,324.2 400.0,330.0 C415.8,335.8 425.0,332.5 440.0,340.0 C455.0,347.5 480.7,365.0 490.0,375.0 C499.3,385.0 501.0,393.3 496.0,400.0 C491.0,406.7 476.0,415.8 460.0,415.0 C444.0,414.2 415.0,396.7 400.0,395.0 C385.0,393.3 383.3,410.8 370.0,405.0 C356.7,399.2 328.3,367.5 320.0,360.0"/>
<path d="M320,322 L320,360"/>
<path d="M320,360 L325,490 L370,530 L385,525 L400,520 L460,545 L495,530 L496,400"/>
<path d="M345,390 L350,508 M375,410 L378,527 M403,398 L405,522 M455,420 L458,545 M480,410 L482,536"/>
<path d="M310,340 L310,470 L325,490"/>
<path d="M370,345 L400,365 L385,335 M420,345 L440,380 L455,350"/>
</g>

<g class="l">
<!-- left vertical tube + top bend -->
<path d="M211.9,760.4 L211.9,660 C211.9,650 218,645.5 225,646.4 L281.5,677.3"/>
<path d="M218.8,760.4 L218.8,662 C218.8,657 222,654.5 226.9,655.5 L325,711 L367.5,735 L400,755.9 L418.2,762.6 C424.3,763.5 427.3,759.5 431.9,758 L462.2,761"/>
<path d="M213.3,727 L213.3,760"/>
<ellipse cx="215.35" cy="760.6" rx="3.4" ry="1.1"/>
<ellipse cx="215.35" cy="766.6" rx="3.4" ry="1.1"/>
<path d="M211.9,766.6 L211.9,828"/>
<path d="M218.8,766.6 L218.8,828"/>
<path d="M213.4,768 L213.4,826" stroke="#999" stroke-width="0.6"/>
<!-- trunk upper line segments -->
<path d="M290.6,682.8 L307.9,692.8"/>
<path d="M315.2,696.5 L382.6,734 L415.2,753.5 C421,755 425,752 425,745.9 L425.4,664"/>
<path d="M432,664 L432.7,745.9 C432.7,749.5 434.6,751.3 439.5,751.9 L462.2,755"/>
</g>

<g class="l" transform="translate(455,685) scale(0.18209)">
<!-- connector top-right -->
<path d="M442,95 L545,40 L582,62 L480,118 Z"/>
<path d="M442,95 L445,160 M480,118 L482,195 M582,62 L582,150"/>
<path d="M482,195 L582,148 L620,165 L515,215 Z"/>
<path d="M515,215 L510,255 L620,195 L620,165"/>
<path d="M460,198 L460,222 L495,246 L510,255"/>
<path d="M400,165 L435,148 L445,153"/>
<path d="M400,165 L402,195 L425,206 L442,195"/>
<path d="M450,115 L470,126 L470,150 M455,140 L465,148 L465,168 M455,140 L452,165 L440,190 L460,198"/>
<path d="M410,200 L405,265 M425,206 L408,268 M440,200 L412,262 M460,222 L420,252" stroke-width="1.2"/>
<!-- upper branch -->
<path d="M0.0,380.0 C16.7,378.3 58.3,380.0 100.0,370.0 C141.7,360.0 200.0,339.2 250.0,320.0 C300.0,300.8 375.0,265.8 400.0,255.0"/>
<path d="M40.0,396.0 C58.3,394.2 110.0,395.2 150.0,385.0 C190.0,374.8 236.7,354.2 280.0,335.0 C323.3,315.8 388.3,280.8 410.0,270.0"/>
<path d="M400,255 C408,256 412,262 410,270"/>
<!-- connector lower -->
<path d="M445,315 L525,270 L545,280 L542,290 L590,305 L605,298 L618,318 L600,325 L600,365 L525,410 L450,370 Z"/>
<path d="M445,315 L525,350 L600,325"/>
<path d="M525,350 L525,410"/>
<path d="M465,304 L542,290"/>
<path d="M518,336 L590,305"/>
<path d="M450,360 L435,372 M456,376 L440,382 M470,372 L445,377" stroke-width="1.2"/>
<!-- lower branch -->
<path d="M40.0,396.0 C66.7,394.3 148.3,390.3 200.0,386.0 C251.7,381.7 310.8,374.0 350.0,370.0 C389.2,366.0 420.8,363.3 435.0,362.0"/>
<path d="M0.0,415.0 C6.7,416.7 6.7,425.0 40.0,425.0 C73.3,425.0 148.3,419.8 200.0,415.0 C251.7,410.2 310.0,401.5 350.0,396.0 C390.0,390.5 425.0,384.3 440.0,382.0"/>
<path d="M435,362 C442,366 444,376 440,382"/>
<path d="M40,392 L40,425"/>
</g>
<g class="l" transform="translate(400,670) scale(0.30349)">
<!-- ring -->
<ellipse cx="335" cy="358" rx="21" ry="20"/>
<ellipse cx="333" cy="361" rx="8" ry="8"/>
<path d="M316,368 L316,385 M356,362 L354,395"/>
<!-- tie head -->
<path d="M305,395 L340,384 L353,395 L353,420 L320,426 L305,415 Z"/>
<path d="M305,395 L320,405 L353,395 M320,405 L320,426"/>
<path d="M326,408 L345,403 L345,418 L326,421 Z"/>
<!-- strap -->
<path d="M337,424 L338,700 L345,782"/>
<path d="M352,420 L352,700 L348,782 L345,782"/>
<path d="M345,560 L345,700"/>
<path d="M340,692 L350,690 M340,705 L350,703 M340,718 L350,716 M341,731 L350,729 M341,744 L349,742 M342,757 L349,755 M343,768 L348,767"/>
</g>

<g class="l" transform="translate(523.2,766.8) rotate(-23.0)">
<path d="M-1,-1.9 L-13.0,-1.9 A1.2,1.9 0 0 0 -13.0,1.9 L-1,1.9"/>
<path d="M-12.0,-1.9 A1.2,1.9 0 0 1 -12.0,1.9 M-9.8,-1.9 A1.2,1.9 0 0 1 -9.8,1.9 M-7.6,-1.9 A1.2,1.9 0 0 1 -7.6,1.9 M-5.4,-1.9 A1.2,1.9 0 0 1 -5.4,1.9 M-3.2,-1.9 A1.2,1.9 0 0 1 -3.2,1.9 "/>
<ellipse cx="0" cy="0" rx="3.2" ry="4.2" fill="#fff"/>
<path d="M0.5,-4.2 C3.8,-4.4 5.2,-2.1 5.2,0 C5.2,2.1 3.8,4.4 0.5,4.2"/>
<ellipse cx="1.9" cy="0" rx="1.7" ry="2.5"/>
</g>
<g class="l" transform="translate(283.2,721.2) rotate(-20.0)">
<path d="M-1,-1.9 L-13.0,-1.9 A1.2,1.9 0 0 0 -13.0,1.9 L-1,1.9"/>
<path d="M-12.0,-1.9 A1.2,1.9 0 0 1 -12.0,1.9 M-9.8,-1.9 A1.2,1.9 0 0 1 -9.8,1.9 M-7.6,-1.9 A1.2,1.9 0 0 1 -7.6,1.9 M-5.4,-1.9 A1.2,1.9 0 0 1 -5.4,1.9 M-3.2,-1.9 A1.2,1.9 0 0 1 -3.2,1.9 "/>
<ellipse cx="0" cy="0" rx="3.2" ry="4.2" fill="#fff"/>
<path d="M0.5,-4.2 C3.8,-4.4 5.2,-2.1 5.2,0 C5.2,2.1 3.8,4.4 0.5,4.2"/>
<ellipse cx="1.9" cy="0" rx="1.7" ry="2.5"/>
</g>

<g class="l" transform="translate(75,760) scale(0.22762)">
<!-- cylinder connector -->
<path d="M95,70 L165,108"/>
<path d="M95.0,70.0 C91.2,69.7 78.8,65.5 72.0,68.0 C65.2,70.5 56.8,78.0 54.0,85.0 C51.2,92.0 53.7,102.8 55.0,110.0 C56.3,117.2 60.8,125.0 62.0,128.0"/>
<path d="M62,128 L125,166"/>
<ellipse cx="150" cy="150" rx="27" ry="43" transform="rotate(-22 150 150)"/>
<path d="M70,135 L72,165 L128,196 L135,182"/>
<path d="M72,165 L80,160"/>
<path d="M140,135 L176,188 M160,125 L182,183 M130,160 L170,196"/>
<!-- tube -->
<path d="M185.0,180.0 C204.2,189.2 255.8,218.3 300.0,235.0 C344.2,251.7 400.0,269.5 450.0,280.0 C500.0,290.5 575.0,295.0 600.0,298.0"/>
<path d="M175.0,205.0 C194.2,214.2 245.8,243.3 290.0,260.0 C334.2,276.7 390.0,294.2 440.0,305.0 C490.0,315.8 565.0,321.7 590.0,325.0"/>
<path d="M175,205 L185,180"/>
</g>
<g class="l" transform="translate(160,820) scale(0.19727)">
<!-- vertical tube bottom -->
<path d="M262,-10 L262,42 M298,-10 L298,42"/>
<!-- branch 2 -->
<path d="M262.0,42.0 C259.2,56.7 257.8,99.5 245.0,130.0 C232.2,160.5 195.0,209.2 185.0,225.0"/>
<path d="M285.0,60.0 C281.7,75.0 276.7,120.0 265.0,150.0 C253.3,180.0 223.3,225.0 215.0,240.0"/>
<!-- branch 3 -->
<path d="M285.0,60.0 C290.8,78.3 305.8,128.3 320.0,170.0 C334.2,211.7 361.7,286.7 370.0,310.0"/>
<path d="M298.0,42.0 C306.7,61.7 332.2,116.2 350.0,160.0 C367.8,203.8 395.8,280.8 405.0,305.0"/>
<!-- connector 1 -->
<path d="M45,270 L110,235 L240,305 L180,345 Z"/>
<path d="M45,270 L45,370 L180,440 L180,345"/>
<path d="M240,305 L240,400 L180,440"/>
<path d="M75,272 L110,253 L215,308 L185,328 Z"/>
<path d="M185.0,225.0 C179.2,228.3 160.8,235.5 150.0,245.0 C139.2,254.5 125.0,275.8 120.0,282.0"/>
<path d="M192.0,230.0 C187.5,234.2 172.8,243.3 165.0,255.0 C157.2,266.7 148.3,292.5 145.0,300.0"/>
<path d="M198.0,233.0 C194.7,237.8 183.5,249.2 178.0,262.0 C172.5,274.8 167.2,302.0 165.0,310.0"/>
<path d="M204.0,236.0 C202.0,241.3 195.2,254.8 192.0,268.0 C188.8,281.2 186.2,307.2 185.0,315.0"/>
<path d="M210.0,238.0 C209.3,243.3 206.8,257.7 206.0,270.0 C205.2,282.3 205.2,305.0 205.0,312.0"/>
<path d="M215.0,240.0 C216.2,245.0 220.8,260.0 222.0,270.0 C223.2,280.0 222.0,295.0 222.0,300.0"/>
<!-- tie bottom hatch -->
</g>
<g class="l" transform="translate(70,640) scale(0.34901)">
<!-- ring -->
<ellipse cx="550" cy="268" rx="20" ry="19"/>
<ellipse cx="548" cy="271" rx="8" ry="8"/>
<path d="M531,278 L531,295 M570,272 L570,300"/>
<!-- tie head -->
<path d="M525,296 L558,288 L570,298 L570,320 L540,326 L525,316 Z"/>
<path d="M525,296 L540,305 L570,298 M540,305 L540,326"/>
<path d="M545,309 L563,305 L563,318 L545,321 Z"/>
<!-- strap -->
<path d="M550,324 L552,600 L559,640"/>
<path d="M570,320 L570,600 L563,640 L559,640"/>
<path d="M561,480 L561,600"/>
<path d="M554,562 L567,560 M554,574 L567,572 M554,586 L567,584 M555,598 L567,596 M556,610 L565,608 M557,622 L564,620"/>
</g>

<g class="l" transform="translate(195,880) scale(0.15175)">
<!-- connector 2 switch -->
<path d="M120,110 L215,50 L395,130 L300,200 Z"/>
<path d="M120,110 L125,290 L290,365 L300,200"/>
<path d="M395,130 L395,300 L290,365"/>
<path d="M160,112 L218,75 L352,132 L300,168 Z"/>
<path d="M160,112 L160,128 L300,185 L300,168 M352,132 L352,148 L300,185"/>
<!-- wires -->
<path d="M245.0,10.0 C241.7,20.0 230.8,51.7 225.0,70.0 C219.2,88.3 212.5,111.7 210.0,120.0"/>
<path d="M255.0,12.0 C252.5,22.5 242.8,55.3 240.0,75.0 C237.2,94.7 238.3,120.8 238.0,130.0"/>
<path d="M268.0,14.0 C267.0,25.0 262.0,59.0 262.0,80.0 C262.0,101.0 267.0,130.0 268.0,140.0"/>
<path d="M282.0,12.0 C282.5,23.3 283.3,57.0 285.0,80.0 C286.7,103.0 290.8,138.3 292.0,150.0"/>
<path d="M295.0,8.0 C296.7,18.3 302.2,46.3 305.0,70.0 C307.8,93.7 310.8,136.7 312.0,150.0"/>
<path d="M210,120 L225,135 L238,130 M238,130 L255,150 L268,140" />
<!-- knob -->
<path d="M152.0,232.0 C154.2,227.5 157.0,212.0 165.0,205.0 C173.0,198.0 188.3,190.0 200.0,190.0 C211.7,190.0 225.8,195.8 235.0,205.0 C244.2,214.2 254.2,231.7 255.0,245.0 C255.8,258.3 248.3,275.8 240.0,285.0 C231.7,294.2 210.8,297.5 205.0,300.0"/>
<path d="M170.0,228.0 C172.5,225.3 179.2,215.0 185.0,212.0 C190.8,209.0 198.3,207.8 205.0,210.0 C211.7,212.2 220.5,218.3 225.0,225.0 C229.5,231.7 232.8,241.7 232.0,250.0 C231.2,258.3 224.5,269.7 220.0,275.0 C215.5,280.3 207.5,280.8 205.0,282.0"/>
<path d="M85,295 L115,265 L150,255 L165,235 L200,235 L205,265 L185,280 L150,295 L120,310 L95,310 Z"/>
<path d="M115,265 L120,290 L150,295 M120,290 L95,310 M150,255 L165,270 L185,280"/>
</g>
<g class="l" transform="translate(215,820) scale(0.12308)">
<!-- branch 4 -->
<path d="M30.0,65.0 C50.0,75.8 105.0,95.8 150.0,130.0 C195.0,164.2 255.0,216.7 300.0,270.0 C345.0,323.3 391.7,395.0 420.0,450.0 C448.3,505.0 458.3,543.3 470.0,600.0 C481.7,656.7 486.7,758.3 490.0,790.0"/>
<path d="M45.0,95.0 C60.8,104.2 102.5,119.2 140.0,150.0 C177.5,180.8 230.0,230.0 270.0,280.0 C310.0,330.0 353.3,396.7 380.0,450.0 C406.7,503.3 418.3,543.3 430.0,600.0 C441.7,656.7 446.7,758.3 450.0,790.0"/>
<!-- connector 3 -->
<path d="M395,815 L445,790 L525,830 L475,860 Z"/>
<path d="M395,815 L390,930 L470,975 L475,860"/>
<path d="M525,830 L525,950 L470,975"/>
<path d="M420,815 L447,802 L500,830 L475,845 Z"/>
<path d="M452,790 L455,815 M472,792 L470,822 M488,800 L485,828"/>
</g>


</svg>
</body></html>
